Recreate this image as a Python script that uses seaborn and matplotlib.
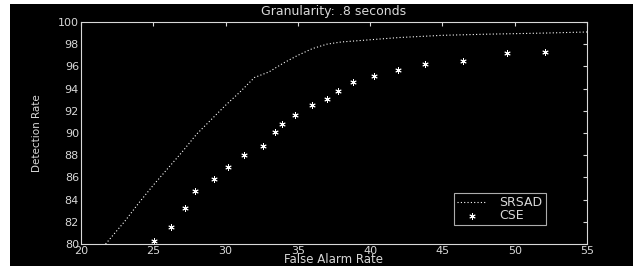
import matplotlib
matplotlib.use("Agg")
import matplotlib.pyplot as plt
import matplotlib.patches as mpatches
import seaborn as sns
import pandas as pd

# data
srsad_far = [21.7, 23, 24, 25, 26, 27, 28, 29, 30, 31, 32, 33, 34, 35, 36, 37, 38, 40, 42, 45, 48, 52, 55]
srsad_dr = [80, 82.0, 83.7, 85.3, 86.8, 88.3, 89.9, 91.2, 92.5, 93.7, 95.0, 95.5, 96.3, 97.0, 97.6, 98.0,
            98.2, 98.4, 98.6, 98.8, 98.9, 99.0, 99.1]
cse_far = [25.05, 26.2, 27.2, 27.9, 29.2, 30.2, 31.3, 32.6, 33.4, 33.9, 34.8, 35.95, 37.0, 37.8, 38.8,
           40.3, 41.9, 43.8, 46.4, 49.5, 52.1]
cse_dr = [80.3, 81.5, 83.2, 84.8, 85.9, 86.9, 88.0, 88.8, 90.1, 90.8, 91.6, 92.5, 93.1, 93.8, 94.6,
          95.1, 95.7, 96.2, 96.5, 97.2, 97.3]
x_ticks = [20, 25, 30, 35, 40, 45, 50, 55]
y_ticks = [80, 82, 84, 86, 88, 90, 92, 94, 96, 98, 100]

srsad = pd.DataFrame({"far": srsad_far, "dr": srsad_dr})
cse = pd.DataFrame({"far": cse_far, "dr": cse_dr})

sns.set_style("dark")
plt.rcParams["font.family"] = ["DejaVu Sans"]
fg = "#d8d8d8"

fig = plt.figure(figsize=(6.37, 2.66), dpi=100, facecolor="white")
# black backdrop like the screenshot
fig.patches.append(mpatches.Rectangle((10 / 637, 0), 623 / 637, 262 / 266, transform=fig.transFigure,
                                      facecolor="black", edgecolor="none", zorder=-10))
ax = fig.add_axes([81 / 637, 1 - 244 / 266, 506 / 637, 222 / 266])
ax.set_facecolor("black")

sns.lineplot(data=srsad, x="far", y="dr", ax=ax, color="white", linestyle=(0, (1, 2)),
             linewidth=0.8, label="SRSAD")
sns.scatterplot(data=cse, x="far", y="dr", ax=ax, marker=(6, 2, 0), s=16, color="white",
                linewidth=0.7, label="CSE")

ax.set_xlim(20, 55)
ax.set_ylim(80, 100)
ax.set_xticks(x_ticks)
ax.set_yticks(y_ticks)
ax.grid(False)
for s in ax.spines.values():
    s.set_color(fg)
    s.set_linewidth(0.8)
ax.tick_params(direction="in", top=True, right=True, length=3, color=fg, labelcolor=fg,
               labelsize=8, pad=1.5)
ax.set_xlabel("False Alarm Rate", color=fg, fontsize=8.5)
ax.xaxis.set_label_coords(0.5, (244 - 253) / 222)
ax.set_ylabel("Detection Rate", color=fg, fontsize=7.5)
ax.yaxis.set_label_coords((42 - 81) / 506, 0.5)
ax.set_title("Granularity: .8 seconds", color=fg, fontsize=9, y=1 + (22 - 15) / 222, pad=0)

leg = ax.legend(loc="upper left", bbox_to_anchor=((454 - 81) / 506, (244 - 193) / 222),
                frameon=True, fancybox=False, fontsize=9, borderpad=0.25, handlelength=2.4,
                labelspacing=0.0, handletextpad=1.0, borderaxespad=0)
leg.get_frame().set_facecolor("black")
leg.get_frame().set_edgecolor(fg)
leg.get_frame().set_linewidth(0.8)
for t in leg.get_texts():
    t.set_color(fg)

fig.savefig("out.png", dpi=100, facecolor=fig.get_facecolor())
